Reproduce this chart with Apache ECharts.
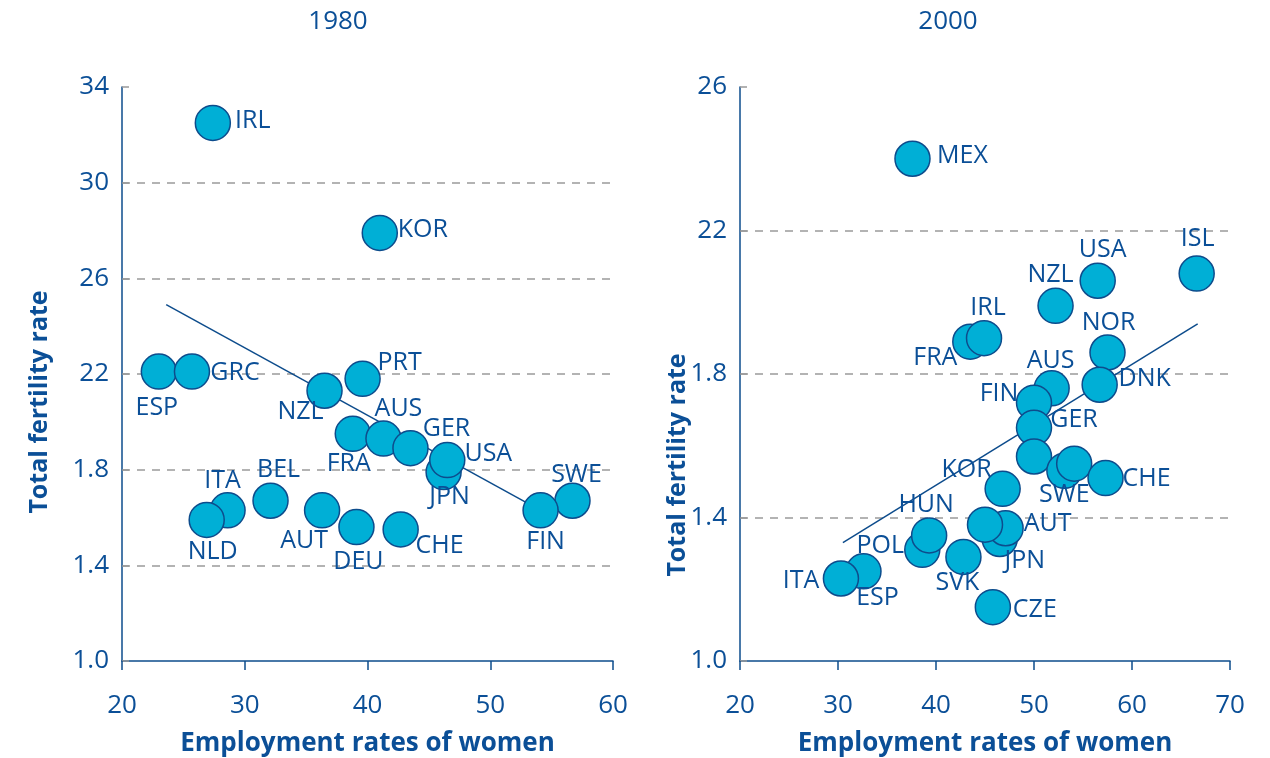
<!DOCTYPE html>
<html>
<head>
<meta charset="utf-8">
<script src="https://cdn.jsdelivr.net/npm/echarts@6/dist/echarts.min.js"></script>
<style>
  html, body { margin: 0; padding: 0; background: #fff; }
  #chart { width: 1270px; height: 758px; }
</style>
</head>
<body>
<div id="chart"></div>
<script>
// 1980 panel
const countries1980 = ['IRL', 'KOR', 'ESP', 'GRC', 'PRT', 'NZL', 'FRA', 'AUS', 'GER', 'JPN', 'USA', 'SWE', 'FIN', 'BEL', 'ITA', 'NLD', 'AUT', 'DEU', 'CHE'];
const emp1980 = [27.4, 41.0, 23.0, 25.7, 39.6, 36.5, 38.8, 41.3, 43.5, 46.2, 46.5, 56.7, 54.1, 32.1, 28.6, 26.9, 36.3, 39.1, 42.7];
const tfr1980 = [3.25, 2.79, 2.21, 2.21, 2.18, 2.13, 1.95, 1.93, 1.89, 1.79, 1.84, 1.67, 1.63, 1.67, 1.63, 1.59, 1.63, 1.56, 1.55];
const trendX1980 = [23.6, 54.1];
const trendY1980 = [2.49, 1.63];
const yTicks1980 = ['1.0', '1.4', '1.8', '22', '26', '30', '34'];

// 2000 panel
const countries2000 = ['MEX', 'ISL', 'USA', 'NZL', 'FRA', 'IRL', 'NOR', 'DNK', 'AUS', 'FIN', 'GER', '', 'SWE', '', 'CHE', 'KOR', 'POL', 'HUN', 'SVK', 'JPN', 'AUT', '', 'CZE', 'ESP', 'ITA'];
const emp2000 = [37.6, 66.6, 56.5, 52.2, 43.5, 44.9, 57.5, 56.7, 51.8, 50.0, 50.0, 50.0, 53.1, 54.1, 57.3, 46.8, 38.6, 39.3, 42.8, 46.5, 47.1, 45.0, 45.8, 32.6, 30.3];
const tfr2000 = [2.40, 2.08, 2.06, 1.99, 1.89, 1.90, 1.86, 1.77, 1.76, 1.72, 1.65, 1.57, 1.53, 1.55, 1.51, 1.48, 1.31, 1.35, 1.29, 1.34, 1.37, 1.38, 1.15, 1.25, 1.23];
const trendX2000 = [30.5, 66.7];
const trendY2000 = [1.33, 1.94];
const yTicks2000 = ['1.0', '1.4', '1.8', '22', '26'];

// label offset from the circle centre, px
const place1980 = {
  IRL: [40, -2], KOR: [43, -3], ESP: [-2, 36], GRC: [43, 1], PRT: [37, -16],
  NZL: [-24, 21], FRA: [-4, 30], AUS: [15, -30], GER: [36, -19], USA: [41, -6],
  JPN: [6, 25], FIN: [5, 32], SWE: [4, -26], BEL: [8, -31], ITA: [-5, -29],
  NLD: [6, 32], AUT: [-18, 31], DEU: [2, 35], CHE: [39, 16]
};
const place2000 = {
  MEX: [50, -3], ISL: [1, -35], USA: [5, -31], NZL: [-5, -31], IRL: [4, -30],
  FRA: [-35, 16], NOR: [1, -30], AUS: [-1, -27], DNK: [45, -6], FIN: [-35, -9],
  GER: [40, -8], SWE: [0, 24], CHE: [41, 1], KOR: [-36, -19], POL: [-42, -4],
  HUN: [-3, -31], SVK: [-6, 26], JPN: [25, 22], AUT: [42, -4], CZE: [42, 3],
  ESP: [14, 27], ITA: [-40, 2]
};

const textBlue = '#0b4f97';
const fillBlue = '#00afd6';
const lineBlue = '#0d4c8c';
const fontFam = '"Open Sans", "Noto Sans", sans-serif';

function points(names, xs, ys, place) {
  return names.map(function (n, i) {
    const p = place[n];
    const item = { name: n, value: [xs[i], ys[i]] };
    if (p) {
      item.label = { show: true, position: 'inside', offset: p };
    } else {
      item.label = { show: false };
    }
    return item;
  });
}

function xAxisOpt(idx, max) {
  return {
    type: 'value', gridIndex: idx, min: 20, max: max, interval: 10,
    name: 'Employment rates of women', nameLocation: 'middle', nameGap: 70,
    nameTextStyle: { color: textBlue, fontSize: 26, fontWeight: 'bold', fontFamily: fontFam },
    axisLine: { lineStyle: { color: lineBlue, width: 1.5 } },
    axisTick: { show: true, length: 9, lineStyle: { color: lineBlue, width: 1.5 } },
    axisLabel: { color: textBlue, fontSize: 26, margin: 32, fontFamily: fontFam },
    splitLine: { show: false }
  };
}

function yAxisOpt(idx, max, ticks) {
  return {
    type: 'value', gridIndex: idx, min: 1.0, max: max, interval: 0.4,
    axisLine: { show: true, lineStyle: { color: lineBlue, width: 1.5 } },
    axisTick: { show: true, inside: true, length: 7, lineStyle: { color: '#999', width: 1.5 } },
    axisLabel: {
      color: textBlue, fontSize: 26, margin: 13, fontFamily: fontFam,
      formatter: function (v) { return ticks[Math.round((v - 1.0) / 0.4)]; }
    },
    splitLine: {
      show: true,
      showMinLine: false,
      showMaxLine: false,
      lineStyle: { color: '#9a9a9a', type: [8, 7], width: 1.5 }
    }
  };
}

function scatterSeries(idx, data) {
  return {
    type: 'scatter', xAxisIndex: idx, yAxisIndex: idx, z: 3,
    symbolSize: 35,
    itemStyle: { color: fillBlue, borderColor: lineBlue, borderWidth: 1.5, opacity: 1 },
    label: { color: textBlue, fontSize: 25, fontFamily: fontFam, formatter: '{b}' },
    emphasis: { disabled: true },
    data: data
  };
}

function trendSeries(idx, xs, ys) {
  return {
    type: 'line', xAxisIndex: idx, yAxisIndex: idx, z: 2,
    symbol: 'none', silent: true,
    lineStyle: { color: lineBlue, width: 1.5 },
    data: xs.map(function (x, i) { return [x, ys[i]]; })
  };
}

const chart = echarts.init(document.getElementById('chart'));
chart.setOption({
  animation: false,
  backgroundColor: '#fff',
  textStyle: { fontFamily: fontFam },
  grid: [
    { left: 122, top: 87, width: 491, height: 574, outerBoundsMode: 'none' },
    { left: 740, top: 87, width: 490, height: 574, outerBoundsMode: 'none' }
  ],
  xAxis: [xAxisOpt(0, 60), xAxisOpt(1, 70)],
  yAxis: [yAxisOpt(0, 3.4, yTicks1980), yAxisOpt(1, 2.6, yTicks2000)],
  graphic: [
    { type: 'text', x: 338, y: 22, style: { text: '1980', fill: textBlue, font: '26px ' + fontFam, align: 'center', verticalAlign: 'middle' } },
    { type: 'text', x: 948, y: 22, style: { text: '2000', fill: textBlue, font: '26px ' + fontFam, align: 'center', verticalAlign: 'middle' } },
    { type: 'text', x: 40, y: 402, rotation: Math.PI / 2, style: { text: 'Total fertility rate', fill: textBlue, font: 'bold 25px ' + fontFam, align: 'center', verticalAlign: 'middle' } },
    { type: 'text', x: 678, y: 465, rotation: Math.PI / 2, style: { text: 'Total fertility rate', fill: textBlue, font: 'bold 25px ' + fontFam, align: 'center', verticalAlign: 'middle' } }
  ],
  series: [
    trendSeries(0, trendX1980, trendY1980),
    scatterSeries(0, points(countries1980, emp1980, tfr1980, place1980)),
    trendSeries(1, trendX2000, trendY2000),
    scatterSeries(1, points(countries2000, emp2000, tfr2000, place2000))
  ]
});
</script>
</body>
</html>
